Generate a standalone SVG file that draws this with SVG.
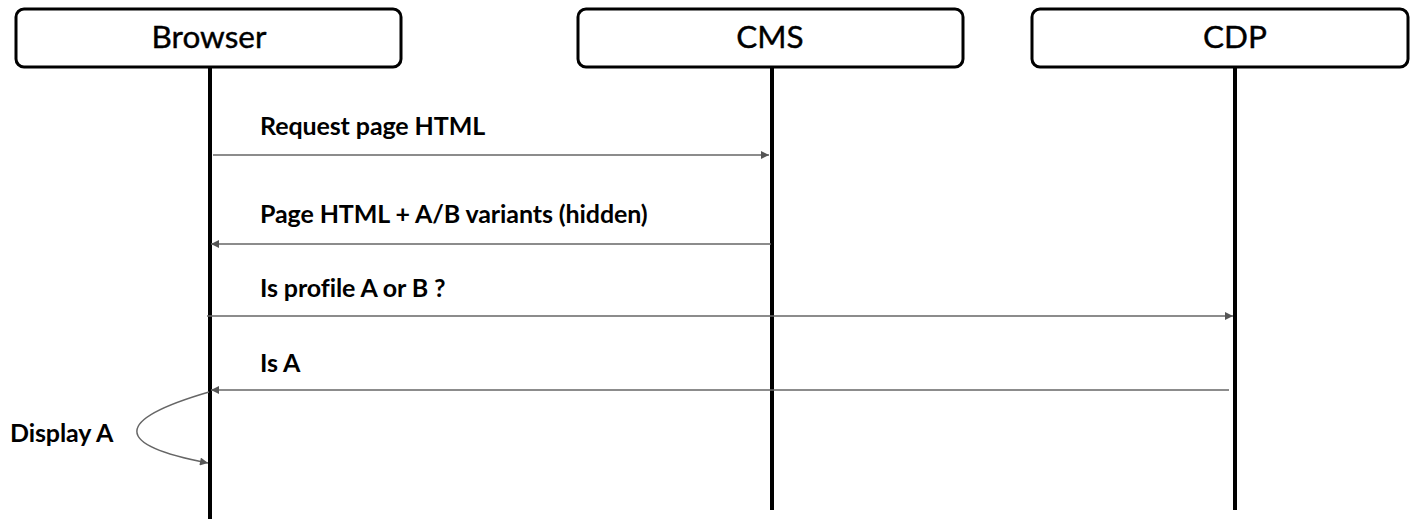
<svg xmlns="http://www.w3.org/2000/svg" width="1418" height="519" viewBox="0 0 1418 519">
<style>
.box{fill:#fff;stroke:#000;stroke-width:3}
.life{stroke:#000;stroke-width:4}
.title{font-family:Lato,"Liberation Sans",sans-serif;font-size:31.5px;fill:#000;text-anchor:middle;stroke:#000;stroke-width:0.4}
.lbl{font-family:Lato,"Liberation Sans",sans-serif;font-size:25px;font-weight:bold;fill:#000;letter-spacing:-0.1px}
.msg{stroke:#666;stroke-width:1.5;fill:none}
</style>
<defs>
<marker id="ah" viewBox="0 0 10 10" refX="10" refY="5" markerWidth="10" markerHeight="8" markerUnits="userSpaceOnUse" orient="auto">
<path d="M0,0 L10,5 L0,10 z" fill="#555"/>
</marker>
</defs>
<g id="browser">
<rect class="box" x="16" y="9" width="385" height="58" rx="8"/>
<text class="title" x="209" y="48">Browser</text>
<line class="life" x1="210" y1="67" x2="210" y2="519"/>
</g>
<g id="cms">
<rect class="box" x="578" y="9" width="385" height="58" rx="8"/>
<text class="title" x="770" y="48">CMS</text>
<line class="life" x1="772" y1="67" x2="772" y2="510"/>
</g>
<g id="cdp">
<rect class="box" x="1032" y="9" width="376" height="58" rx="8"/>
<text class="title" x="1235" y="48">CDP</text>
<line class="life" x1="1235" y1="67" x2="1235" y2="510"/>
</g>
<g id="connectors">
<line class="msg" x1="213" y1="155" x2="769" y2="155" marker-end="url(#ah)"/>
<line class="msg" x1="771" y1="244" x2="211" y2="244" marker-end="url(#ah)"/>
<line class="msg" x1="207" y1="316" x2="1233" y2="316" marker-end="url(#ah)"/>
<line class="msg" x1="1229" y1="390" x2="211" y2="390" marker-end="url(#ah)"/>
<path class="msg" d="M209,392 C113,420 113,445 208,463" marker-end="url(#ah)"/>
</g>
<g id="labels">
<text class="lbl" x="260" y="135">Request page HTML</text>
<text class="lbl" x="260" y="223">Page HTML + A/B variants (hidden)</text>
<text class="lbl" x="260" y="297">Is profile A or B ?</text>
<text class="lbl" x="260" y="372">Is A</text>
<text class="lbl" x="10" y="442">Display A</text>
</g>
</svg>
